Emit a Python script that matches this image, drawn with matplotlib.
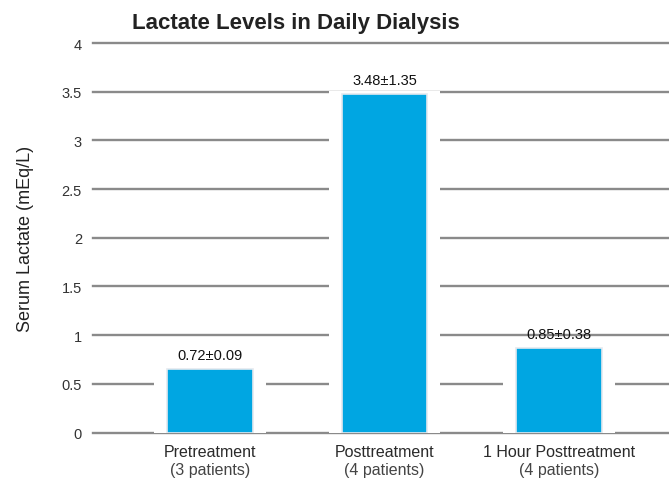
import numpy as np
import matplotlib
matplotlib.use("Agg")
import matplotlib.pyplot as plt
import matplotlib.patheffects as pe

plt.rcParams['font.family'] = ['Liberation Sans', 'DejaVu Sans']

groups = ['Pretreatment', 'Posttreatment', '1 Hour Posttreatment']
patients = ['(3 patients)', '(4 patients)', '(4 patients)']
heights = [0.65, 3.48, 0.87]
labels = ['0.72±0.09', '3.48±1.35', '0.85±0.38']
yticks = [0, 0.5, 1, 1.5, 2, 2.5, 3, 3.5, 4]

fig = plt.figure(figsize=(6.69, 4.81), dpi=100)
ax = fig.add_axes([93/669, 47.5/481, 1 - 93/669, 389.5/481])

x = np.arange(len(groups))
ax.set_xlim(-0.67, 2.63)
ax.set_ylim(0, 4)

for t in yticks:
    ax.axhline(t, color='#8a8a8a', lw=1.7, zorder=1, clip_on=False)

# white halo behind the bars that breaks the gridlines
ax.bar(x, [h + 0.03 for h in heights], width=0.64, color='white', zorder=2)
bars = ax.bar(x, heights, width=0.49, color='#00a6e2', edgecolor='#e4e9ef',
              linewidth=1.2, zorder=3)
for b in bars:
    b.set_path_effects([pe.SimplePatchShadow(offset=(0, 0), shadow_rgbFace='#777777', alpha=0.35),
                        pe.Normal()])

for xi, h, lab in zip(x, heights, labels):
    ax.annotate(lab, (xi, h), xytext=(0, 5), textcoords='offset points',
                ha='center', va='bottom', fontsize=10.5, color='#111111', zorder=4)

ax.set_yticks(yticks)
ax.set_yticklabels(['0', '0.5', '1', '1.5', '2', '2.5', '3', '3.5', '4'],
                   fontsize=10.5, color='#333333')
ax.tick_params(axis='y', length=0, pad=8)
ax.set_xticks([])
for s in ax.spines.values():
    s.set_visible(False)

for xi, g, p in zip(x, groups, patients):
    ax.text(xi, -0.19, g, ha='center', va='center', fontsize=11.5,
            color='#2a2a2a')
    ax.text(xi, -0.38, p, ha='center', va='center', fontsize=11.5, color='#444444')

ax.set_ylabel('Serum Lactate (mEq/L)', fontsize=13, color='#222222', labelpad=20)

fig.text(296/669, 1 - 23/481, 'Lactate Levels in Daily Dialysis', ha='center', va='center',
         fontsize=16, fontweight='bold', color='#222222')

fig.savefig('out.png', dpi=100)
